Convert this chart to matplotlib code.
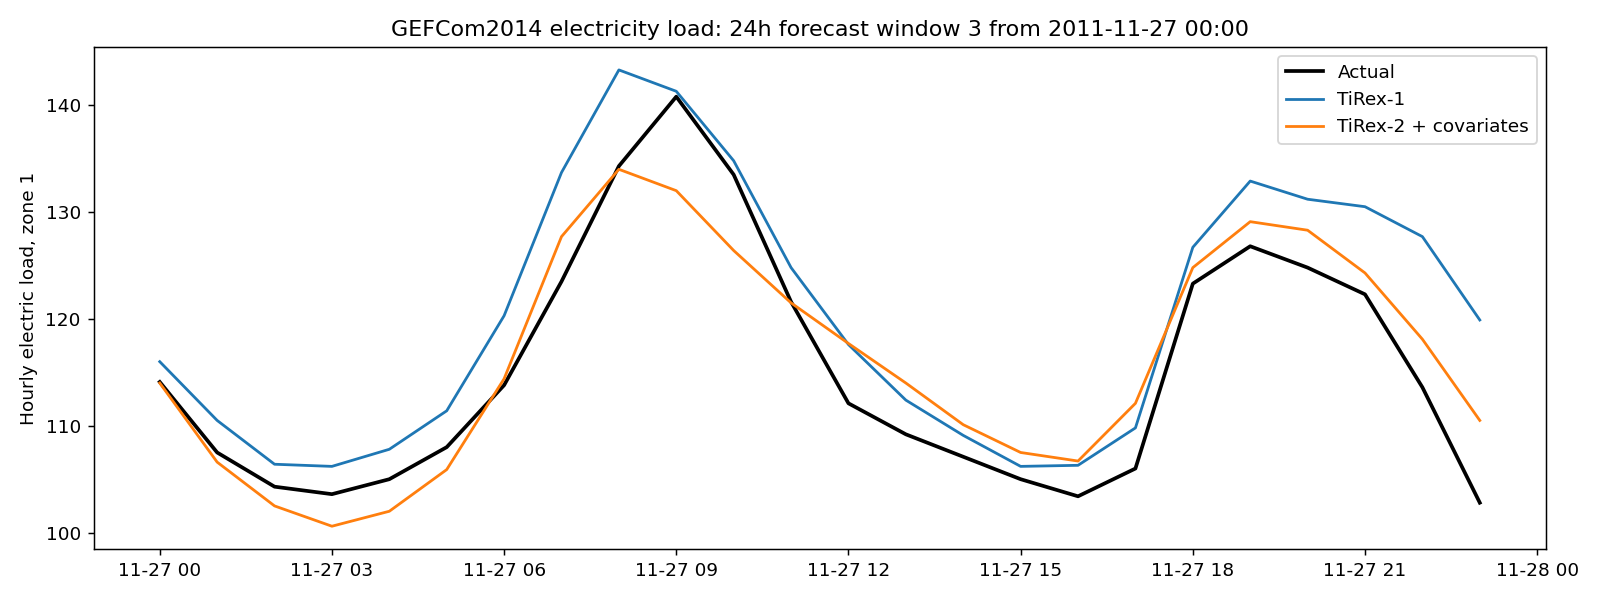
import numpy as np
import pandas as pd
import matplotlib
matplotlib.use("Agg")
import matplotlib.pyplot as plt
import matplotlib.dates as mdates

hours = pd.date_range("2011-11-27 00:00", periods=24, freq="h")

actual = [114.1, 107.5, 104.3, 103.6, 105.0, 108.0, 113.8, 123.5, 134.3, 140.8, 133.5, 121.6,
          112.1, 109.2, 107.1, 105.0, 103.4, 106.0, 123.3, 126.8, 124.8, 122.3, 113.6, 102.8]
tirex1 = [116.0, 110.5, 106.4, 106.2, 107.8, 111.4, 120.3, 133.7, 143.3, 141.3, 134.8, 124.8,
          117.6, 112.4, 109.1, 106.2, 106.3, 109.8, 126.7, 132.9, 131.2, 130.5, 127.7, 119.9]
tirex2_cov = [114.0, 106.6, 102.5, 100.6, 102.0, 105.9, 114.4, 127.7, 134.0, 132.0, 126.4, 121.5,
              117.7, 114.0, 110.1, 107.5, 106.7, 112.1, 124.8, 129.1, 128.3, 124.3, 118.1, 110.5]

fig, ax = plt.subplots(figsize=(12, 4.5), dpi=400 / 3)
ax.plot(hours, actual, color="black", linewidth=2, label="Actual")
ax.plot(hours, tirex1, color="#1f77b4", linewidth=1.5, label="TiRex-1")
ax.plot(hours, tirex2_cov, color="#ff7f0e", linewidth=1.5, label="TiRex-2 + covariates")

ax.xaxis.set_major_locator(mdates.HourLocator(interval=3))
ax.xaxis.set_major_formatter(mdates.DateFormatter("%m-%d %H"))
ax.set_ylabel("Hourly electric load, zone 1")
ax.set_title("GEFCom2014 electricity load: 24h forecast window 3 from 2011-11-27 00:00")
ax.legend(loc="upper right")

plt.tight_layout()
plt.savefig("out.png")
